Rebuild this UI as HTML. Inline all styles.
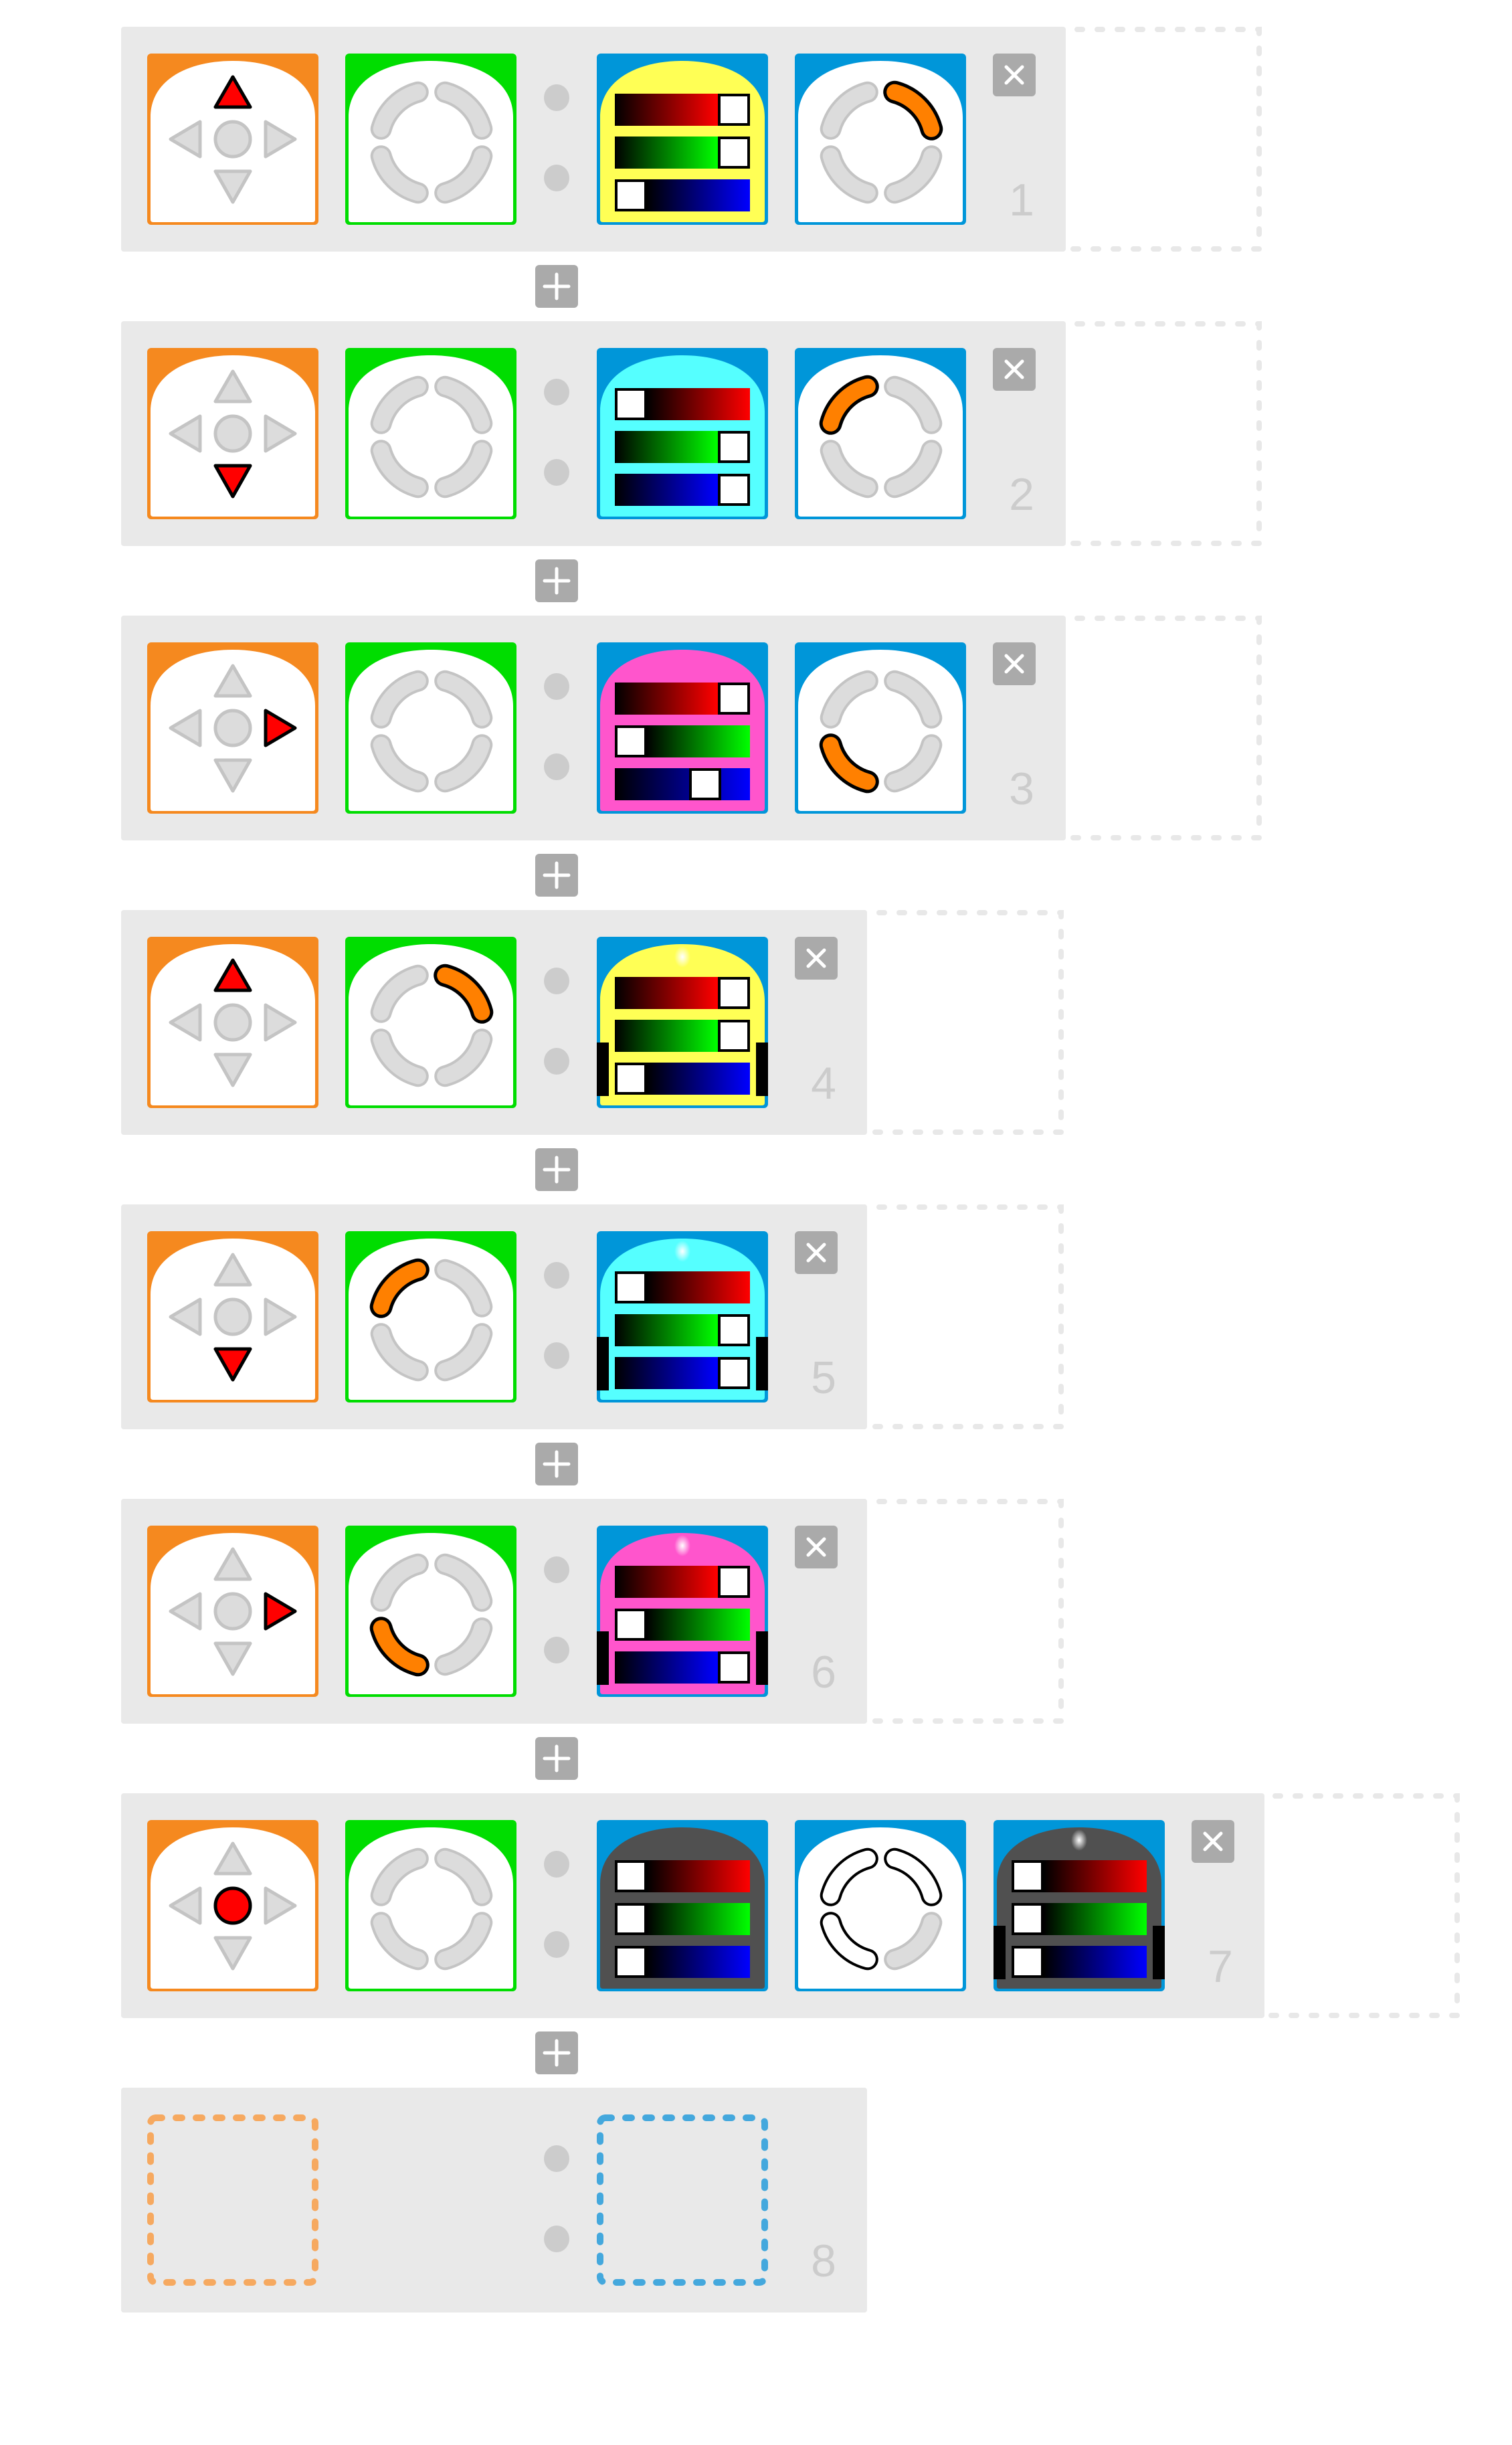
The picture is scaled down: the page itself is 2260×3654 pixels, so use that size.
<!DOCTYPE html>
<html><head><meta charset="utf-8"><style>
html,body{margin:0;padding:0;background:#fff;}
svg{display:block;}
text{font-family:"Liberation Sans",sans-serif;}
</style></head><body>
<svg width="2260" height="3654" viewBox="0 0 2260 3654" xmlns="http://www.w3.org/2000/svg">
<defs>
<linearGradient id="gr" x1="0" x2="1" y1="0" y2="0"><stop offset="0" stop-color="#000"/><stop offset="1" stop-color="#f00"/></linearGradient>
<linearGradient id="gg" x1="0" x2="1" y1="0" y2="0"><stop offset="0" stop-color="#000"/><stop offset="1" stop-color="#0f0"/></linearGradient>
<linearGradient id="gb" x1="0" x2="1" y1="0" y2="0"><stop offset="0" stop-color="#000"/><stop offset="1" stop-color="#00f"/></linearGradient>
<radialGradient id="glow"><stop offset="0" stop-color="#fff"/><stop offset="1" stop-color="#fff" stop-opacity="0"/></radialGradient>
<path id="arch" d="M5,250 L5,95 C5,40 60,11 128,11 C196,11 251,40 251,95 L251,248 Q251,252 247,252 L9,252 Q5,252 5,248Z"/>
<path id="aTL" d="M108.8,57.7 A78,78 0 0 0 53.7,112.8"/>
<path id="aTR" d="M149.2,57.7 A78,78 0 0 1 204.3,112.8"/>
<path id="aBR" d="M204.3,153.2 A78,78 0 0 1 149.2,208.3"/>
<path id="aBL" d="M108.8,208.3 A78,78 0 0 1 53.7,153.2"/>
<g id="arcsGrey" fill="none" stroke-linecap="round">
 <g stroke="#c4c4c4" stroke-width="32"><use href="#aTL"/><use href="#aTR"/><use href="#aBR"/><use href="#aBL"/></g>
 <g stroke="#dcdcdc" stroke-width="24"><use href="#aTL"/><use href="#aTR"/><use href="#aBR"/><use href="#aBL"/></g>
</g>
<g id="dpad" fill="#dcdcdc" stroke="#c4c4c4" stroke-width="5" stroke-linejoin="round">
 <polygon points="128,35 102,80 154,80"/>
 <polygon points="102,176 154,176 128,222"/>
 <polygon points="35,128 79,102 79,154"/>
 <polygon points="221,128 177,102 177,154"/>
 <circle cx="128" cy="128" r="26"/>
</g>
<g id="tileO"><rect width="256" height="256" rx="6" fill="#f5891f"/><use href="#arch" fill="#fff"/><use href="#dpad"/></g>
<g id="tileG"><rect width="256" height="256" rx="6" fill="#00dd00"/><use href="#arch" fill="#fff"/><use href="#arcsGrey"/></g>
<g id="tileB"><rect width="256" height="256" rx="6" fill="#0096d9"/><use href="#arch" fill="#fff"/><use href="#arcsGrey"/></g>
<g id="sideBars" fill="#000"><rect x="0" y="158" width="18" height="80"/><rect x="238" y="158" width="18" height="80"/></g>
<g id="xbtn"><rect width="64" height="64" rx="6" fill="#aaa"/><path d="M20,20 L44,44 M44,20 L20,44" stroke="#fff" stroke-width="5" stroke-linecap="round"/></g>
<g id="pbtn"><rect x="800" y="356" width="64" height="64" rx="6" fill="#aaa"/><path d="M832,370 V406 M814,388 H850" stroke="#fff" stroke-width="5" stroke-linecap="round"/></g>
<g id="panelDots" fill="#cccccc"><ellipse cx="832" cy="106" rx="19" ry="20"/><ellipse cx="832" cy="226" rx="19" ry="20"/></g>
<g id="hL"><rect x="29" y="2" width="44" height="44" fill="#fff" stroke="#000" stroke-width="4"/></g>
</defs>

<!-- generic pieces -->
<!-- ROW 1 -->
<g transform="translate(0,40)">
 <rect x="1580" y="4" width="302" height="328" fill="none" stroke="#e8e8e8" stroke-width="8" stroke-dasharray="8 22" stroke-linecap="round"/>
 <rect x="181" y="0" width="1412" height="336" rx="4" fill="#e9e9e9"/>
 <use href="#panelDots"/>
 <g transform="translate(220,40)"><use href="#tileO"/><polygon points="128,35 102,80 154,80" fill="#f00" stroke="#000" stroke-width="5" stroke-linejoin="round"/></g>
 <g transform="translate(516,40)"><use href="#tileG"/></g>
 <g transform="translate(892,40)"><rect width="256" height="256" rx="6" fill="#0096d9"/><use href="#arch" fill="#ffff55"/>
  <rect x="27" y="60" width="154" height="48" fill="url(#gr)"/><rect x="183" y="62" width="44" height="44" fill="#fff" stroke="#000" stroke-width="4"/>
  <rect x="27" y="124" width="154" height="48" fill="url(#gg)"/><rect x="183" y="126" width="44" height="44" fill="#fff" stroke="#000" stroke-width="4"/>
  <rect x="75" y="188" width="154" height="48" fill="url(#gb)"/><rect x="29" y="190" width="44" height="44" fill="#fff" stroke="#000" stroke-width="4"/>
 </g>
 <g transform="translate(1188,40)"><use href="#tileB"/><use href="#aTR" fill="none" stroke="#000" stroke-width="34" stroke-linecap="round"/><use href="#aTR" fill="none" stroke="#ff8000" stroke-width="24" stroke-linecap="round"/></g>
 <use href="#xbtn" transform="translate(1484,40)"/>
 <text x="1546" y="282" font-size="68" fill="#cccccc" text-anchor="end">1</text>
</g>
<use href="#pbtn" transform="translate(0,40)"/>

<!-- ROW 2 -->
<g transform="translate(0,480)">
 <rect x="1580" y="4" width="302" height="328" fill="none" stroke="#e8e8e8" stroke-width="8" stroke-dasharray="8 22" stroke-linecap="round"/>
 <rect x="181" y="0" width="1412" height="336" rx="4" fill="#e9e9e9"/>
 <use href="#panelDots"/>
 <g transform="translate(220,40)"><use href="#tileO"/><polygon points="102,176 154,176 128,222" fill="#f00" stroke="#000" stroke-width="5" stroke-linejoin="round"/></g>
 <g transform="translate(516,40)"><use href="#tileG"/></g>
 <g transform="translate(892,40)"><rect width="256" height="256" rx="6" fill="#0096d9"/><use href="#arch" fill="#55ffff"/>
  <rect x="75" y="60" width="154" height="48" fill="url(#gr)"/><rect x="29" y="62" width="44" height="44" fill="#fff" stroke="#000" stroke-width="4"/>
  <rect x="27" y="124" width="154" height="48" fill="url(#gg)"/><rect x="183" y="126" width="44" height="44" fill="#fff" stroke="#000" stroke-width="4"/>
  <rect x="27" y="188" width="154" height="48" fill="url(#gb)"/><rect x="183" y="190" width="44" height="44" fill="#fff" stroke="#000" stroke-width="4"/>
 </g>
 <g transform="translate(1188,40)"><use href="#tileB"/><use href="#aTL" fill="none" stroke="#000" stroke-width="34" stroke-linecap="round"/><use href="#aTL" fill="none" stroke="#ff8000" stroke-width="24" stroke-linecap="round"/></g>
 <use href="#xbtn" transform="translate(1484,40)"/>
 <text x="1546" y="282" font-size="68" fill="#cccccc" text-anchor="end">2</text>
</g>
<use href="#pbtn" transform="translate(0,480)"/>

<!-- ROW 3 -->
<g transform="translate(0,920)">
 <rect x="1580" y="4" width="302" height="328" fill="none" stroke="#e8e8e8" stroke-width="8" stroke-dasharray="8 22" stroke-linecap="round"/>
 <rect x="181" y="0" width="1412" height="336" rx="4" fill="#e9e9e9"/>
 <use href="#panelDots"/>
 <g transform="translate(220,40)"><use href="#tileO"/><polygon points="221,128 177,102 177,154" fill="#f00" stroke="#000" stroke-width="5" stroke-linejoin="round"/></g>
 <g transform="translate(516,40)"><use href="#tileG"/></g>
 <g transform="translate(892,40)"><rect width="256" height="256" rx="6" fill="#0096d9"/><use href="#arch" fill="#ff55cc"/>
  <rect x="27" y="60" width="154" height="48" fill="url(#gr)"/><rect x="183" y="62" width="44" height="44" fill="#fff" stroke="#000" stroke-width="4"/>
  <rect x="75" y="124" width="154" height="48" fill="url(#gg)"/><rect x="29" y="126" width="44" height="44" fill="#fff" stroke="#000" stroke-width="4"/>
  <rect x="27" y="188" width="202" height="48" fill="url(#gb)"/><rect x="140" y="190" width="44" height="44" fill="#fff" stroke="#000" stroke-width="4"/>
 </g>
 <g transform="translate(1188,40)"><use href="#tileB"/><use href="#aBL" fill="none" stroke="#000" stroke-width="34" stroke-linecap="round"/><use href="#aBL" fill="none" stroke="#ff8000" stroke-width="24" stroke-linecap="round"/></g>
 <use href="#xbtn" transform="translate(1484,40)"/>
 <text x="1546" y="282" font-size="68" fill="#cccccc" text-anchor="end">3</text>
</g>
<use href="#pbtn" transform="translate(0,920)"/>

<!-- ROW 4 -->
<g transform="translate(0,1360)">
 <rect x="1284" y="4" width="302" height="328" fill="none" stroke="#e8e8e8" stroke-width="8" stroke-dasharray="8 22" stroke-linecap="round"/>
 <rect x="181" y="0" width="1115" height="336" rx="4" fill="#e9e9e9"/>
 <use href="#panelDots"/>
 <g transform="translate(220,40)"><use href="#tileO"/><polygon points="128,35 102,80 154,80" fill="#f00" stroke="#000" stroke-width="5" stroke-linejoin="round"/></g>
 <g transform="translate(516,40)"><use href="#tileG"/><use href="#aTR" fill="none" stroke="#000" stroke-width="34" stroke-linecap="round"/><use href="#aTR" fill="none" stroke="#ff8000" stroke-width="24" stroke-linecap="round"/></g>
 <g transform="translate(892,40)"><rect width="256" height="256" rx="6" fill="#0096d9"/><use href="#arch" fill="#ffff55"/>
  <ellipse cx="128" cy="30" rx="12" ry="16" fill="url(#glow)"/>
  <rect x="27" y="60" width="154" height="48" fill="url(#gr)"/><rect x="183" y="62" width="44" height="44" fill="#fff" stroke="#000" stroke-width="4"/>
  <rect x="27" y="124" width="154" height="48" fill="url(#gg)"/><rect x="183" y="126" width="44" height="44" fill="#fff" stroke="#000" stroke-width="4"/>
  <rect x="75" y="188" width="154" height="48" fill="url(#gb)"/><rect x="29" y="190" width="44" height="44" fill="#fff" stroke="#000" stroke-width="4"/>
  <use href="#sideBars"/>
 </g>
 <use href="#xbtn" transform="translate(1188,40)"/>
 <text x="1250" y="282" font-size="68" fill="#cccccc" text-anchor="end">4</text>
</g>
<use href="#pbtn" transform="translate(0,1360)"/>

<!-- ROW 5 -->
<g transform="translate(0,1800)">
 <rect x="1284" y="4" width="302" height="328" fill="none" stroke="#e8e8e8" stroke-width="8" stroke-dasharray="8 22" stroke-linecap="round"/>
 <rect x="181" y="0" width="1115" height="336" rx="4" fill="#e9e9e9"/>
 <use href="#panelDots"/>
 <g transform="translate(220,40)"><use href="#tileO"/><polygon points="102,176 154,176 128,222" fill="#f00" stroke="#000" stroke-width="5" stroke-linejoin="round"/></g>
 <g transform="translate(516,40)"><use href="#tileG"/><use href="#aTL" fill="none" stroke="#000" stroke-width="34" stroke-linecap="round"/><use href="#aTL" fill="none" stroke="#ff8000" stroke-width="24" stroke-linecap="round"/></g>
 <g transform="translate(892,40)"><rect width="256" height="256" rx="6" fill="#0096d9"/><use href="#arch" fill="#55ffff"/>
  <ellipse cx="128" cy="30" rx="12" ry="16" fill="url(#glow)"/>
  <rect x="75" y="60" width="154" height="48" fill="url(#gr)"/><rect x="29" y="62" width="44" height="44" fill="#fff" stroke="#000" stroke-width="4"/>
  <rect x="27" y="124" width="154" height="48" fill="url(#gg)"/><rect x="183" y="126" width="44" height="44" fill="#fff" stroke="#000" stroke-width="4"/>
  <rect x="27" y="188" width="154" height="48" fill="url(#gb)"/><rect x="183" y="190" width="44" height="44" fill="#fff" stroke="#000" stroke-width="4"/>
  <use href="#sideBars"/>
 </g>
 <use href="#xbtn" transform="translate(1188,40)"/>
 <text x="1250" y="282" font-size="68" fill="#cccccc" text-anchor="end">5</text>
</g>
<use href="#pbtn" transform="translate(0,1800)"/>

<!-- ROW 6 -->
<g transform="translate(0,2240)">
 <rect x="1284" y="4" width="302" height="328" fill="none" stroke="#e8e8e8" stroke-width="8" stroke-dasharray="8 22" stroke-linecap="round"/>
 <rect x="181" y="0" width="1115" height="336" rx="4" fill="#e9e9e9"/>
 <use href="#panelDots"/>
 <g transform="translate(220,40)"><use href="#tileO"/><polygon points="221,128 177,102 177,154" fill="#f00" stroke="#000" stroke-width="5" stroke-linejoin="round"/></g>
 <g transform="translate(516,40)"><use href="#tileG"/><use href="#aBL" fill="none" stroke="#000" stroke-width="34" stroke-linecap="round"/><use href="#aBL" fill="none" stroke="#ff8000" stroke-width="24" stroke-linecap="round"/></g>
 <g transform="translate(892,40)"><rect width="256" height="256" rx="6" fill="#0096d9"/><use href="#arch" fill="#ff55cc"/>
  <ellipse cx="128" cy="30" rx="12" ry="16" fill="url(#glow)"/>
  <rect x="27" y="60" width="154" height="48" fill="url(#gr)"/><rect x="183" y="62" width="44" height="44" fill="#fff" stroke="#000" stroke-width="4"/>
  <rect x="75" y="124" width="154" height="48" fill="url(#gg)"/><rect x="29" y="126" width="44" height="44" fill="#fff" stroke="#000" stroke-width="4"/>
  <rect x="27" y="188" width="154" height="48" fill="url(#gb)"/><rect x="183" y="190" width="44" height="44" fill="#fff" stroke="#000" stroke-width="4"/>
  <use href="#sideBars"/>
 </g>
 <use href="#xbtn" transform="translate(1188,40)"/>
 <text x="1250" y="282" font-size="68" fill="#cccccc" text-anchor="end">6</text>
</g>
<use href="#pbtn" transform="translate(0,2240)"/>

<!-- ROW 7 -->
<g transform="translate(0,2680)">
 <rect x="1876" y="4" width="302" height="328" fill="none" stroke="#e8e8e8" stroke-width="8" stroke-dasharray="8 22" stroke-linecap="round"/>
 <rect x="181" y="0" width="1709" height="336" rx="4" fill="#e9e9e9"/>
 <use href="#panelDots"/>
 <g transform="translate(220,40)"><use href="#tileO"/><circle cx="128" cy="128" r="26" fill="#f00" stroke="#000" stroke-width="5"/></g>
 <g transform="translate(516,40)"><use href="#tileG"/></g>
 <g transform="translate(892,40)"><rect width="256" height="256" rx="6" fill="#0096d9"/><use href="#arch" fill="#505050"/>
  <rect x="75" y="60" width="154" height="48" fill="url(#gr)"/><rect x="29" y="62" width="44" height="44" fill="#fff" stroke="#000" stroke-width="4"/>
  <rect x="75" y="124" width="154" height="48" fill="url(#gg)"/><rect x="29" y="126" width="44" height="44" fill="#fff" stroke="#000" stroke-width="4"/>
  <rect x="75" y="188" width="154" height="48" fill="url(#gb)"/><rect x="29" y="190" width="44" height="44" fill="#fff" stroke="#000" stroke-width="4"/>
 </g>
 <g transform="translate(1188,40)"><use href="#tileB"/>
  <g fill="none" stroke-linecap="round"><g stroke="#000" stroke-width="32"><use href="#aTL"/><use href="#aTR"/><use href="#aBL"/></g>
  <g stroke="#fff" stroke-width="24"><use href="#aTL"/><use href="#aTR"/><use href="#aBL"/></g></g>
 </g>
 <g transform="translate(1485,40)"><rect width="256" height="256" rx="6" fill="#0096d9"/><use href="#arch" fill="#505050"/>
  <ellipse cx="128" cy="30" rx="12" ry="16" fill="url(#glow)"/>
  <rect x="75" y="60" width="154" height="48" fill="url(#gr)"/><rect x="29" y="62" width="44" height="44" fill="#fff" stroke="#000" stroke-width="4"/>
  <rect x="75" y="124" width="154" height="48" fill="url(#gg)"/><rect x="29" y="126" width="44" height="44" fill="#fff" stroke="#000" stroke-width="4"/>
  <rect x="75" y="188" width="154" height="48" fill="url(#gb)"/><rect x="29" y="190" width="44" height="44" fill="#fff" stroke="#000" stroke-width="4"/>
  <use href="#sideBars"/>
 </g>
 <use href="#xbtn" transform="translate(1781,40)"/>
 <text x="1843" y="282" font-size="68" fill="#cccccc" text-anchor="end">7</text>
</g>
<use href="#pbtn" transform="translate(0,2680)"/>

<!-- ROW 8 -->
<g transform="translate(0,3120)">
 <rect x="181" y="0" width="1115" height="336" rx="4" fill="#e9e9e9"/>
 <use href="#panelDots"/>
 <rect x="225" y="45" width="246" height="246" rx="8" fill="none" stroke="#f6a960" stroke-width="10" stroke-dasharray="9 21" stroke-linecap="round"/>
 <rect x="897" y="45" width="246" height="246" rx="8" fill="none" stroke="#44a8dd" stroke-width="10" stroke-dasharray="9 21" stroke-linecap="round"/>
 <text x="1250" y="282" font-size="68" fill="#cccccc" text-anchor="end">8</text>
</g>
</svg>
</body></html>
